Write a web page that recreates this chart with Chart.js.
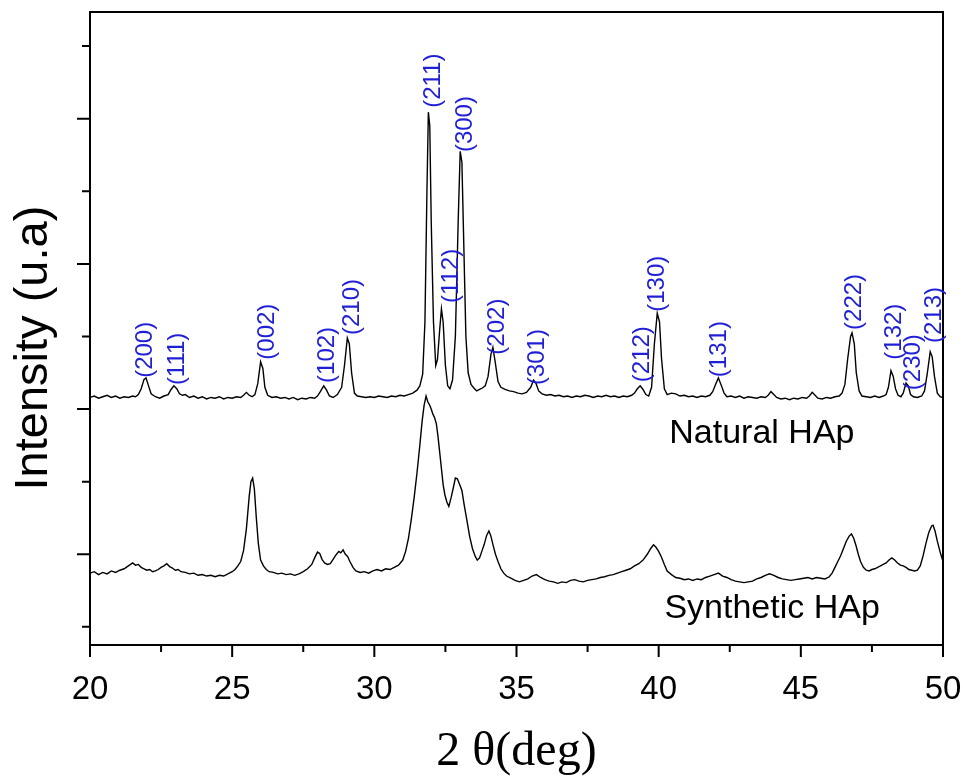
<!DOCTYPE html>
<html>
<head>
<meta charset="utf-8">
<script src="https://cdn.jsdelivr.net/npm/chart.js@4.4.1/dist/chart.umd.min.js"></script>
<style>
  html, body { margin: 0; padding: 0; background: #fff; }
  #wrap { width: 964px; height: 776px; }
</style>
</head>
<body>
<div id="wrap"><canvas id="xrd" width="964" height="776"></canvas></div>
<script>
// Natural HAp pattern (2theta, intensity a.u.)
const naturalTheta = [20.0,20.15,20.3,20.45,20.6,20.75,20.9,21.05,21.2,21.35,21.5,21.6,21.7,21.8,21.9,21.97,22.05,22.15,22.3,22.45,22.6,22.75,22.85,22.95,23.05,23.15,23.25,23.35,23.5,23.65,23.8,23.95,24.1,24.25,24.4,24.55,24.7,24.85,25.0,25.15,25.3,25.4,25.5,25.6,25.7,25.8,25.9,26.0,26.08,26.15,26.25,26.4,26.55,26.7,26.85,27.0,27.15,27.3,27.45,27.6,27.75,27.9,28.0,28.1,28.22,28.32,28.42,28.55,28.7,28.85,28.95,29.05,29.12,29.2,29.3,29.4,29.55,29.7,29.85,30.0,30.15,30.3,30.45,30.6,30.75,30.9,31.05,31.2,31.35,31.5,31.6,31.7,31.78,31.85,31.9,31.95,32.0,32.08,32.16,32.22,32.3,32.36,32.42,32.5,32.58,32.66,32.75,32.85,32.95,33.02,33.08,33.15,33.22,33.3,33.4,33.5,33.6,33.7,33.8,33.9,34.0,34.1,34.17,34.25,34.35,34.45,34.6,34.75,34.9,35.05,35.2,35.35,35.5,35.6,35.68,35.78,35.9,36.05,36.2,36.35,36.5,36.65,36.8,36.95,37.1,37.25,37.4,37.55,37.7,37.85,38.0,38.15,38.3,38.45,38.6,38.75,38.9,39.05,39.15,39.25,39.35,39.45,39.55,39.65,39.75,39.85,39.95,40.03,40.1,40.2,40.3,40.45,40.6,40.75,40.9,41.05,41.2,41.35,41.5,41.65,41.8,41.9,42.0,42.1,42.2,42.3,42.4,42.55,42.7,42.85,43.0,43.15,43.3,43.45,43.6,43.75,43.85,43.95,44.05,44.15,44.3,44.45,44.6,44.75,44.9,45.05,45.2,45.3,45.4,45.5,45.6,45.75,45.9,46.05,46.2,46.35,46.45,46.55,46.65,46.75,46.8,46.88,46.95,47.05,47.15,47.3,47.45,47.6,47.75,47.9,48.0,48.08,48.17,48.25,48.33,48.42,48.52,48.6,48.7,48.78,48.86,48.96,49.1,49.25,49.35,49.45,49.55,49.62,49.7,49.8,49.9,50.0];
const naturalCounts = [316,318,315,317,319,316,318,315,317,316,318,317,320,328,341,343,333,321,317,315,318,320,327,332,328,321,319,320,316,318,315,317,314,316,315,317,314,316,315,317,316,319,323,319,317,320,335,365,356,330,319,316,317,315,316,314,316,313,315,314,316,315,318,324,332,326,318,316,320,330,360,398,390,350,322,318,317,316,317,316,318,317,316,318,317,319,318,320,322,326,332,348,420,600,709,690,560,420,360,368,410,438,420,360,332,328,340,400,560,655,640,520,400,350,334,329,325,327,329,332,345,375,385,365,338,330,327,325,324,322,321,323,330,340,336,325,321,319,320,318,319,317,318,316,318,317,319,318,316,318,317,319,317,318,316,318,317,319,322,328,332,327,320,318,330,390,432,420,370,328,320,322,321,318,319,317,318,316,318,317,319,324,334,343,333,322,317,318,316,318,315,317,316,315,317,316,319,324,320,316,314,315,313,315,314,316,315,318,323,319,315,314,316,315,317,318,322,334,370,400,405,390,350,325,318,317,316,318,316,318,320,330,353,345,328,319,317,322,336,332,320,317,316,318,325,350,379,372,345,322,317,316];

// Synthetic HAp pattern
const syntheticTheta = [20.0,20.15,20.3,20.45,20.6,20.75,20.9,21.05,21.2,21.35,21.5,21.6,21.7,21.8,21.9,22.0,22.1,22.2,22.3,22.4,22.5,22.6,22.7,22.8,22.9,23.0,23.1,23.2,23.35,23.5,23.65,23.8,23.95,24.1,24.25,24.4,24.55,24.7,24.85,25.0,25.1,25.2,25.3,25.4,25.5,25.6,25.66,25.72,25.78,25.85,25.92,26.0,26.1,26.2,26.3,26.45,26.6,26.75,26.9,27.05,27.2,27.35,27.5,27.65,27.8,27.9,28.0,28.08,28.16,28.25,28.35,28.45,28.55,28.65,28.75,28.82,28.9,28.98,29.06,29.14,29.25,29.35,29.5,29.65,29.8,29.95,30.1,30.25,30.4,30.55,30.7,30.85,31.0,31.1,31.2,31.3,31.4,31.5,31.6,31.68,31.75,31.82,31.88,31.94,32.0,32.06,32.12,32.18,32.24,32.3,32.36,32.42,32.48,32.55,32.62,32.7,32.78,32.85,32.92,33.0,33.08,33.16,33.25,33.35,33.45,33.55,33.62,33.7,33.78,33.86,33.95,34.03,34.1,34.18,34.26,34.35,34.45,34.55,34.65,34.8,34.95,35.1,35.25,35.4,35.55,35.7,35.85,36.0,36.15,36.3,36.45,36.6,36.75,36.9,37.05,37.2,37.35,37.5,37.65,37.8,37.95,38.1,38.25,38.4,38.55,38.7,38.85,39.0,39.15,39.3,39.45,39.6,39.72,39.82,39.9,40.0,40.1,40.2,40.3,40.45,40.6,40.75,40.9,41.05,41.2,41.35,41.5,41.65,41.8,41.95,42.1,42.25,42.4,42.55,42.7,42.85,43.0,43.15,43.3,43.45,43.6,43.75,43.9,44.05,44.2,44.35,44.5,44.65,44.8,44.95,45.1,45.25,45.4,45.55,45.7,45.85,46.0,46.1,46.2,46.3,46.4,46.5,46.6,46.7,46.78,46.86,46.94,47.02,47.1,47.2,47.3,47.4,47.5,47.6,47.7,47.8,47.9,48.0,48.1,48.2,48.3,48.4,48.5,48.6,48.7,48.8,48.9,49.0,49.1,49.2,49.3,49.4,49.5,49.6,49.65,49.72,49.8,49.9,50.0];
const syntheticCounts = [74,76,72,75,73,77,75,78,80,84,88,85,86,82,80,78,79,76,77,79,82,84,87,83,81,78,79,76,75,73,74,71,72,70,71,69,71,70,73,76,79,84,90,105,135,180,200,205,190,150,115,92,84,79,76,75,73,74,72,73,71,73,76,80,86,95,103,101,93,88,86,87,93,99,104,102,106,100,97,90,82,77,75,76,74,77,79,77,80,79,82,85,92,104,122,148,178,212,250,283,305,318,310,306,300,293,288,280,262,240,218,196,182,172,166,178,192,205,204,196,188,168,148,125,108,97,92,95,104,113,126,132,125,112,100,90,80,74,70,67,64,62,64,66,70,72,68,65,63,62,60,62,61,64,65,63,62,64,65,66,68,69,71,72,74,76,78,80,84,87,92,100,108,113,110,104,96,86,77,72,68,67,65,66,64,66,65,68,70,72,74,70,68,65,63,62,61,62,63,66,68,71,73,71,68,66,65,64,65,66,67,68,66,68,67,66,69,74,82,90,98,108,118,125,128,122,112,100,90,82,78,77,79,80,82,84,86,88,92,95,92,88,85,84,82,79,78,77,78,84,98,115,130,139,140,132,118,103,90];

// Miller index labels and where each one sits (2theta, intensity at its lower end)
const peakLabels = ['(200)','(111)','(002)','(102)','(210)','(211)','(112)','(300)','(202)','(301)','(212)','(130)','(131)','(222)','(132)','(230)','(213)'];
const peakLabelTheta = [21.97,23.1,26.26,28.37,29.25,32.1,32.72,33.22,34.33,35.76,39.44,39.98,42.16,46.9,48.31,48.98,49.72];
const peakLabelBase = [343,333,368,336,402,715,446,654,375,333,337,434,344,409,368,326,391];

const sampleNames = ['Natural HAp', 'Synthetic HAp'];
const sampleTheta = [43.63, 43.99];
const sampleLevel = [266, 25];

const xTickValues = [20,22.5,25,27.5,30,32.5,35,37.5,40,42.5,45,47.5,50];
const yTickValues = [0,100,200,300,400,500,600,700,800];

const toPoints = (xs, ys) => xs.map((x, i) => ({ x: x, y: ys[i] }));

const decorations = {
  id: 'decorations',
  afterDraw(chart) {
    const { ctx, chartArea: a, scales: { x, y } } = chart;
    ctx.save();
    ctx.strokeStyle = '#000';
    ctx.lineWidth = 2;
    ctx.strokeRect(a.left, a.top, a.right - a.left, a.bottom - a.top);
    ctx.beginPath();
    xTickValues.forEach(v => {
      const px = x.getPixelForValue(v);
      const len = v % 5 === 0 ? 12 : 7;
      ctx.moveTo(px, a.bottom);
      ctx.lineTo(px, a.bottom + len);
    });
    yTickValues.forEach(v => {
      const py = y.getPixelForValue(v);
      const len = v % 200 === 100 ? 13 : 8;
      ctx.moveTo(a.left, py);
      ctx.lineTo(a.left - len, py);
    });
    ctx.stroke();

    // hkl labels, rotated
    const fs = 24;
    ctx.font = fs + 'px "Liberation Sans", Arial, sans-serif';
    ctx.fillStyle = '#1f1fd6';
    ctx.textAlign = 'left';
    ctx.textBaseline = 'alphabetic';
    peakLabels.forEach((t, i) => {
      const px = x.getPixelForValue(peakLabelTheta[i]);
      const py = y.getPixelForValue(peakLabelBase[i]);
      ctx.save();
      ctx.translate(px + fs * 0.26, py);
      ctx.rotate(-Math.PI / 2);
      ctx.fillText(t, 0, 0);
      ctx.restore();
    });

    ctx.font = '34px "Liberation Sans", Arial, sans-serif';
    ctx.fillStyle = '#000';
    ctx.textAlign = 'center';
    ctx.textBaseline = 'middle';
    sampleNames.forEach((t, i) => {
      ctx.fillText(t, x.getPixelForValue(sampleTheta[i]), y.getPixelForValue(sampleLevel[i]));
    });
    ctx.restore();
  }
};

new Chart(document.getElementById('xrd'), {
  type: 'scatter',
  data: {
    datasets: [
      { label: 'Natural HAp', data: toPoints(naturalTheta, naturalCounts),
        showLine: true, pointRadius: 0, borderColor: '#000', backgroundColor: '#000', borderWidth: 1.4 },
      { label: 'Synthetic HAp', data: toPoints(syntheticTheta, syntheticCounts),
        showLine: true, pointRadius: 0, borderColor: '#000', backgroundColor: '#000', borderWidth: 1.4 }
    ]
  },
  options: {
    responsive: false,
    animation: false,
    devicePixelRatio: 1,
    layout: { padding: { top: 12, right: 21, left: 0, bottom: 0 } },
    plugins: { legend: { display: false }, tooltip: { enabled: false } },
    scales: {
      x: {
        type: 'linear',
        min: 20,
        max: 50,
        afterFit(scale) { scale.height = 131; scale.paddingLeft = 0; scale.paddingRight = 0; },
        grid: { display: false },
        border: { display: false },
        ticks: {
          stepSize: 5,
          padding: 17,
          color: '#000',
          font: { family: '"Liberation Sans", Arial, sans-serif', size: 33 }
        },
        title: {
          display: true,
          text: '2 \u03b8(deg)',
          color: '#000',
          padding: 0,
          font: { family: '"Liberation Serif", "Times New Roman", serif', size: 48, lineHeight: 1.0 }
        }
      },
      y: {
        type: 'linear',
        min: -25,
        max: 847,
        afterFit(scale) { scale.width = 90; },
        grid: { display: false },
        border: { display: false },
        ticks: { display: false },
        title: {
          display: true,
          text: 'Intensity (u.a)\u00a0\u00a0\u00a0',
          color: '#000',
          padding: { top: 6, bottom: 0 },
          font: { family: '"Liberation Sans", Arial, sans-serif', size: 47 }
        }
      }
    }
  },
  plugins: [decorations]
});
</script>
</body>
</html>
